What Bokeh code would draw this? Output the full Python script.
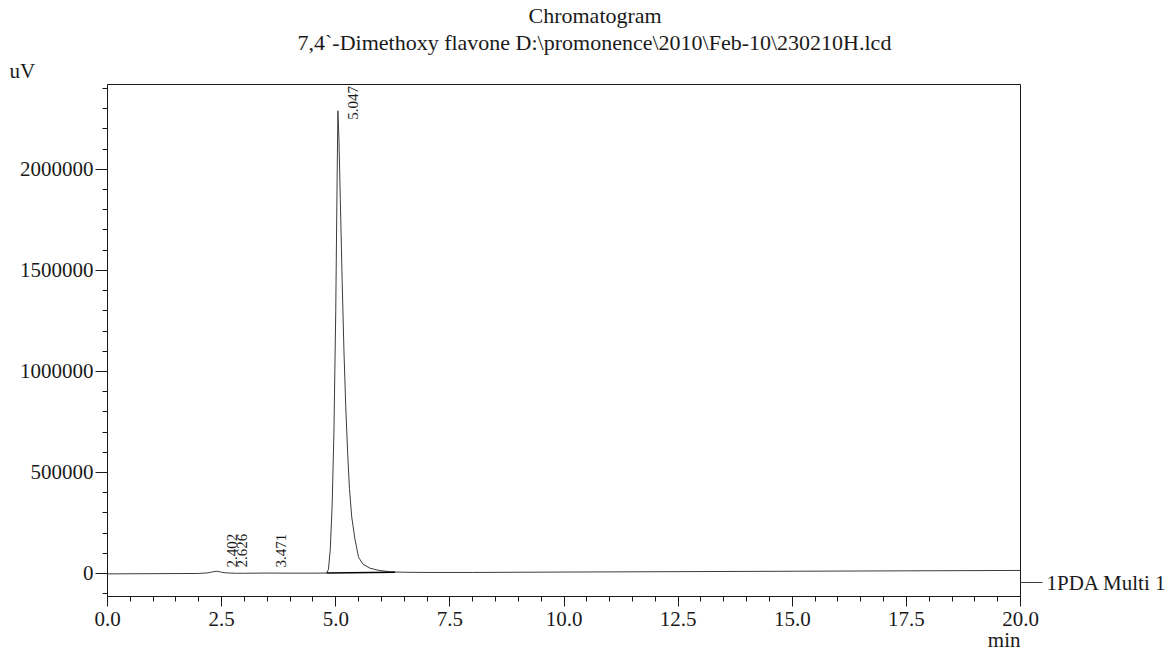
import math
from bokeh.plotting import figure
from bokeh.models import (Range1d, FixedTicker, NumeralTickFormatter, Title,
                          LinearAxis, ColumnDataSource)
from bokeh.core.properties import value
from bokeh.embed import file_html
from bokeh.resources import INLINE

# ---------------- data ----------------
time_min = [0.0, 1.0, 2.0, 2.2, 2.3, 2.4, 2.5, 2.6, 2.8, 3.0, 3.47, 4.0, 4.5,
            4.80, 4.84, 4.88, 4.92, 4.96, 5.00, 5.03, 5.047, 5.07, 5.10, 5.14,
            5.18, 5.22, 5.26, 5.30, 5.35, 5.42, 5.50, 5.60, 5.75, 5.95, 6.2,
            6.5, 7.0, 8.0, 10.0, 12.5, 15.0, 17.5, 20.0]
signal_uv = [-2000, -1000, 0, 3000, 8000, 11000, 6000, 3000, 1000, 1000, 2000,
             1500, 1500, 2000, 20000, 120000, 330000, 700000, 1300000, 1950000,
             2290000, 2150000, 1850000, 1450000, 1100000, 820000, 600000,
             420000, 280000, 170000, 80000, 45000, 26000, 15000, 8000, 6000,
             5000, 5000, 7000, 9000, 11000, 13000, 15000]

integ_t = [4.80, 6.30]          # integration baseline of the main peak
integ_v = [2000, 6000]

peak_times = [2.402, 2.626, 3.471, 5.047]
peak_labels = ["2.402", "2.626", "3.471", "5.047"]
label_y = [30000, 30000, 30000, 2245000]

x_ticks = [0.0, 2.5, 5.0, 7.5, 10.0, 12.5, 15.0, 17.5, 20.0]
x_minor = [i * 0.5 for i in range(0, 41)]
y_ticks = [0, 500000, 1000000, 1500000, 2000000]
y_minor = [-100000 + i * 100000 for i in range(0, 26)]

title_1 = "Chromatogram"
title_2 = "7,4`-Dimethoxy flavone D:\\promonence\\2010\\Feb-10\\230210H.lcd"
y_unit = "uV"
x_unit = "min"
channel = "1PDA Multi 1"
channel_y = -45000              # level at which the channel name is written

# ---------------- layout ----------------
X0, X1 = 0.0, 20.0
Y0, Y1 = -114000, 2420000
FRAME_L, FRAME_R, FRAME_T, FRAME_B = 107, 1020, 83, 596
W, H = 1169, 652
FONT = "Liberation Serif"
INK = "#1a1a1a"

p = figure(width=W, height=H, output_backend="svg", toolbar_location=None,
           title_location=None,
           x_range=Range1d(X0, X1), y_range=Range1d(Y0, Y1),
           min_border_left=FRAME_L, min_border_right=W - FRAME_R,
           min_border_top=FRAME_T, min_border_bottom=H - FRAME_B)
p.xgrid.visible = False
p.ygrid.visible = False
p.outline_line_color = INK
p.outline_line_width = 1
p.background_fill_color = "white"
p.border_fill_color = "white"

# axes
p.xaxis.ticker = FixedTicker(ticks=x_ticks, minor_ticks=x_minor)
p.xaxis.formatter = NumeralTickFormatter(format="0.0")
p.yaxis.ticker = FixedTicker(ticks=y_ticks, minor_ticks=y_minor)
p.yaxis.formatter = NumeralTickFormatter(format="0")
for ax in (p.xaxis[0], p.yaxis[0]):
    ax.axis_line_color = INK
    ax.major_tick_line_color = INK
    ax.minor_tick_line_color = INK
    ax.major_tick_in = 0
    ax.minor_tick_in = 0
    ax.major_label_text_font = FONT
    ax.major_label_text_font_size = "21px"
    ax.major_label_text_color = INK
p.yaxis.major_tick_out = 12
p.yaxis.minor_tick_out = 5
p.yaxis.major_label_standoff = 2
p.xaxis.major_tick_out = 10
p.xaxis.minor_tick_out = 5
p.xaxis.major_label_standoff = 5

# channel name on the right, with its leader tick
right = LinearAxis(ticker=FixedTicker(ticks=[channel_y], minor_ticks=[]),
                   major_label_overrides={channel_y: channel},
                   axis_line_color=None, major_tick_line_color="#3c3c3c",
                   major_tick_in=0, major_tick_out=22, minor_tick_line_color=None,
                   major_label_standoff=4, major_label_text_font=FONT,
                   major_label_text_font_size="21px", major_label_text_color=INK)
p.add_layout(right, "right")

# trace
p.line(time_min, signal_uv, line_color="#3c3c3c", line_width=1)
p.line(integ_t, integ_v, line_color="#000000", line_width=1.6)

# peak labels (rotated)
src = ColumnDataSource(dict(t=peak_times, y=label_y, txt=peak_labels))
p.text(x="t", y="y", text="txt", source=src, angle=math.pi / 2,
       text_align="left", text_baseline="middle", x_offset=15,
       text_font=value(FONT), text_font_size="15px", text_color=INK)


def ttl(text, side, align, offset, size, standoff=0):
    p.add_layout(Title(text=text, align=align, offset=offset, standoff=standoff,
                       text_font=FONT, text_font_size=size,
                       text_font_style="normal", text_color=INK), side)


# stacked above the frame (first added is closest to the frame)
ttl(y_unit, "above", "left", 9 - FRAME_L, "21px", standoff=4)
ttl(title_2, "above", "left", 297 - FRAME_L, "22px")
ttl(title_1, "above", "left", 528 - FRAME_L, "22px")
# unit of time, under the x axis at its right end
ttl(x_unit, "below", "right", 0, "21px", standoff=-5)

open("out.html", "w").write(file_html(p, INLINE))
